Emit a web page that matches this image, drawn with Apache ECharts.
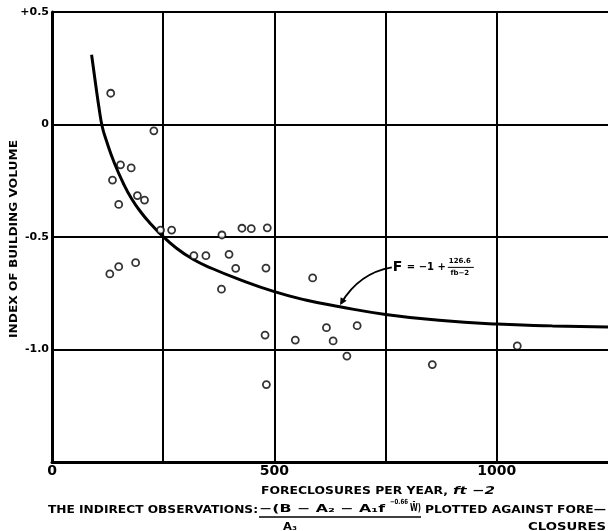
<!DOCTYPE html>
<html><head><meta charset="utf-8">
<script src="https://cdn.jsdelivr.net/npm/echarts@6/dist/echarts.min.js"></script>
<style>html,body{margin:0;padding:0;background:#fff}#c{width:608px;height:531px}</style>
</head><body><div id="c"></div>
<script>
// observations (foreclosures per year, index of building volume)
const obsX = [132, 229, 136, 154, 178, 150, 192, 208, 244, 269, 382, 427, 448, 484, 319, 346, 398,
              130, 150, 188, 413, 481, 381, 479, 547, 482, 586, 617, 632, 686, 663, 855, 1046];
const obsY = [0.139, -0.028, -0.247, -0.179, -0.193, -0.355, -0.316, -0.336, -0.469, -0.469, -0.491, -0.461, -0.463, -0.459, -0.583, -0.583, -0.577,
              -0.664, -0.632, -0.614, -0.639, -0.638, -0.732, -0.936, -0.958, -1.156, -0.682, -0.903, -0.962, -0.894, -1.029, -1.067, -0.984];
// fitted curve
const curveX = [89, 98, 106, 113, 122, 140, 160, 179, 200, 220, 243, 280, 318, 360, 415, 500, 570, 647, 750, 870, 1000, 1125, 1250];
const curveY = [0.31, 0.18, 0.07, -0.01, -0.07, -0.17, -0.26, -0.33, -0.39, -0.438, -0.485, -0.55, -0.60, -0.64, -0.684, -0.743, -0.78, -0.81, -0.844, -0.87, -0.887, -0.895, -0.90];
// tick labels
const xTickLabels = {0: '0', 500: '500', 1000: '1000'};
const yTickLabels = {'0.5': '+0.5', '0': '0', '-0.5': '-0.5', '-1': '-1.0'};
// annotation anchors (data coords)
const arrowFrom = [764, -0.635];
const arrowCtrl = [690, -0.66];
const arrowTo = [650, -0.795];

const FONT = 'DejaVu Sans';
const chart = echarts.init(document.getElementById('c'), null, {renderer: 'canvas'});
const obs = obsX.map((x, i) => [x, obsY[i]]);
const curve = curveX.map((x, i) => [x, curveY[i]]);

chart.setOption({
  animation: false,
  backgroundColor: '#fff',
  grid: {left: 52, right: 0, top: 12, bottom: 69, containLabel: false},
  xAxis: {
    type: 'value', min: 0, max: 1250, interval: 250,
    axisLine: {show: true, onZero: false, lineStyle: {color: '#000', width: 3}},
    axisTick: {show: false},
    splitLine: {show: true, showMaxLine: false, lineStyle: {color: '#000', width: 2}},
    axisLabel: {
      color: '#000', fontFamily: FONT, fontWeight: 'bold', fontSize: 14, margin: 2,
      showMaxLabel: false,
      formatter: v => xTickLabels[v] !== undefined ? xTickLabels[v] : ''
    }
  },
  yAxis: {
    type: 'value', min: -1.5, max: 0.5, interval: 0.5,
    axisLine: {show: true, onZero: false, lineStyle: {color: '#000', width: 3}},
    axisTick: {show: false},
    splitLine: {show: true, lineStyle: {color: '#000', width: 2}},
    axisLabel: {
      color: '#000', fontFamily: FONT, fontWeight: 'bold', fontSize: 11, margin: 3,
      formatter: v => { const k = String(Math.round(v * 10) / 10); return yTickLabels[k] !== undefined ? yTickLabels[k] : ''; }
    }
  },
  series: [
    {type: 'line', data: curve, smooth: 0.5, showSymbol: false, symbol: 'none',
     lineStyle: {color: '#000', width: 3}, z: 3},
    {type: 'scatter', data: obs, symbol: 'circle', symbolSize: 7,
     itemStyle: {color: '#fff', borderColor: '#000', borderWidth: 1.8}, z: 4}
  ]
});

// text fitting helper
const mctx = document.createElement('canvas').getContext('2d');
function fontStr(size, italic) { return (italic ? 'italic ' : '') + 'bold ' + size + 'px "' + FONT + '"'; }
function fit(x1, x2, y, s, size, opt) {
  opt = opt || {};
  const f = fontStr(size, opt.italic);
  mctx.font = f;
  const w = mctx.measureText(s).width;
  return {type: 'text', x: x1, y: y, z: 10, scaleX: (x2 - x1) / w, rotation: opt.rotation || 0,
    style: {text: s, fill: '#000', font: f, textAlign: 'left', textVerticalAlign: 'middle'}};
}
const txt = (x, y, s, size, opt) => ({type: 'text', x: x, y: y, z: 10,
  style: Object.assign({text: s, fill: '#000', font: fontStr(size), textAlign: 'left', textVerticalAlign: 'middle'}, opt || {})});

// annotation arrow
const p0 = chart.convertToPixel({gridIndex: 0}, arrowFrom);
const pc = chart.convertToPixel({gridIndex: 0}, arrowCtrl);
const p1 = chart.convertToPixel({gridIndex: 0}, arrowTo);
const ang = Math.atan2(p1[1] - pc[1], p1[0] - pc[0]);
const hl = 7, hw = 3.5;
const tip = [p1[0] + Math.cos(ang) * 2, p1[1] + Math.sin(ang) * 2];
const b1 = [tip[0] - Math.cos(ang) * hl + Math.sin(ang) * hw, tip[1] - Math.sin(ang) * hl - Math.cos(ang) * hw];
const b2 = [tip[0] - Math.cos(ang) * hl - Math.sin(ang) * hw, tip[1] - Math.sin(ang) * hl + Math.cos(ang) * hw];

// y-axis title (rotated, reads bottom to top)
const yTitle = fit(0, 198, 0, 'INDEX OF BUILDING VOLUME', 10);
yTitle.x = 14; yTitle.y = 338; yTitle.rotation = Math.PI / 2;

chart.setOption({
  graphic: [
    {type: 'bezierCurve', z: 10, shape: {x1: p0[0], y1: p0[1], x2: p1[0], y2: p1[1], cpx1: pc[0], cpy1: pc[1]},
     style: {stroke: '#000', lineWidth: 2, fill: null}},
    {type: 'polygon', z: 10, shape: {points: [tip, b1, b2]}, style: {fill: '#000'}},
    txt(p0[0] + 1, p0[1], 'F', 14),
    txt(p0[0] + 15, p0[1], '= −1 +', 10),
    txt(p0[0] + 68, p0[1] - 6, '126.6', 7, {textAlign: 'center'}),
    {type: 'line', z: 10, shape: {x1: p0[0] + 56, y1: p0[1], x2: p0[0] + 82, y2: p0[1]}, style: {stroke: '#000', lineWidth: 1}},
    txt(p0[0] + 68, p0[1] + 6, 'fb−2', 7, {textAlign: 'center'}),
    yTitle,
    fit(261, 448, 491, 'FORECLOSURES PER YEAR,', 11),
    fit(453, 495, 491, 'ft −2', 11, {italic: true}),
    fit(48, 258, 510, 'THE INDIRECT OBSERVATIONS:', 11),
    fit(259, 385, 509, '−(B − A₂ − A₁f', 10),
    fit(390, 408, 502, '−0.66', 7),
    fit(410, 421, 508, 'W̄)', 10),
    {type: 'line', z: 10, shape: {x1: 259, y1: 517, x2: 421, y2: 517}, style: {stroke: '#000', lineWidth: 1.5}},
    fit(283, 297, 527, 'A₃', 10),
    fit(425, 606, 510, 'PLOTTED AGAINST FORE—', 11),
    fit(528, 606, 527, 'CLOSURES', 11)
  ]
});
</script>
</body></html>
